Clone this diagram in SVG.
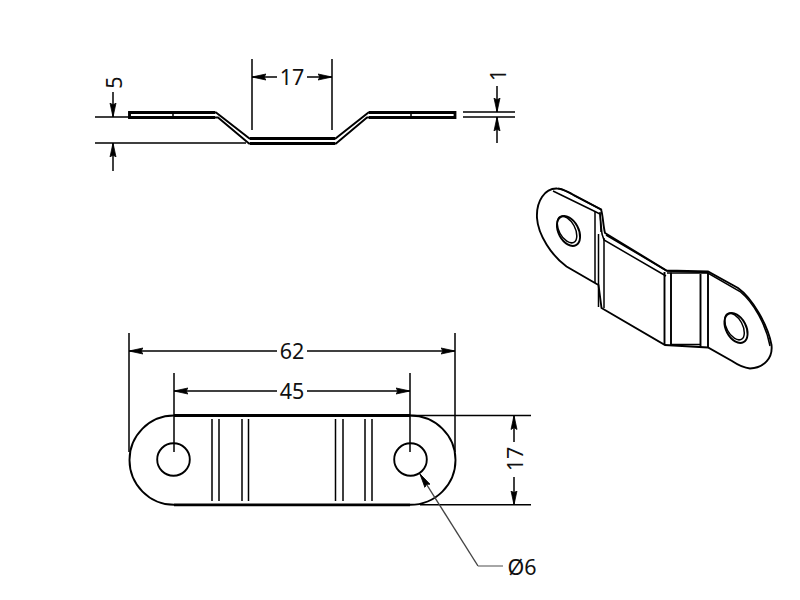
<svg xmlns="http://www.w3.org/2000/svg" width="800" height="600" viewBox="0 0 800 600">
<defs>
<marker id="a" markerUnits="userSpaceOnUse" markerWidth="16" markerHeight="10" refX="14" refY="5" orient="auto-start-reverse"><path d="M0 2L14 5L0 8L2 5Z" fill="#000" stroke="#000" stroke-width=".8"/></marker>
</defs>
<style>
.l{fill:none;stroke:#000;stroke-width:1.500}
.m{fill:none;stroke:#000;stroke-width:1.900}
.h{fill:none;stroke:#000;stroke-width:2.800}
.g{fill:none;stroke:#444;stroke-width:1.400}
.d{marker-end:url(#a)}
text{font-family:"Noto Sans","Open Sans",sans-serif;font-size:21.500px;fill:#111;text-anchor:middle}
</style>
<rect width="800" height="600" fill="#fff"/>
<g id="side-view">
<path class="m" d="M129.500 112.500H216L249.500 138.500H335.500L368.500 112.500H455V117.500H367L336 143.500H249L218 117.500H129.500Z"/>
<path class="l" d="M173 112V117M411 112V117"/>
<path class="h" d="M250 138.500H335M250 143.500H335M130 112.500H215M130 117.500H215M369 112.500H455M369 117.500H455M129.500 111V119M455 111V119"/>
</g>
<g id="plan-view">
<path class="h" d="M174 415.500H410M174 504.800H410"/>
<path class="m" d="M174 415.500C149.400 415.500 129.500 435.500 129.500 460C129.500 484.500 149.400 504.800 174 504.800M410 415.500C435.600 415.500 455.500 435.500 455.500 460C455.500 484.500 435.600 504.800 410 504.800"/>
<circle class="m" cx="173.500" cy="459.500" r="16.300"/>
<circle class="m" cx="410.500" cy="459.500" r="16.300"/>
<path class="l" d="M212 419V501M219 419V501M242 419V501M248.500 419V501M335.500 419V501M343 419V501M365 419V501M372 419V501"/>
</g>
<g id="iso-view">
<path class="m" d="M595 283L566.500 266.500C552 256 538 235 537 218C536 201 545 188 557 188.500C562 188.500 566 191 572 194L601 209.500C603 215 603 225 605 233L666.500 270.500L708 271.500L738 288C752 298 768 325 771.500 345C773 358 764 368 750 368.500C745 368 738 365 732 361L708 347.500L665 345L601.500 308L598.500 285Z"/>
<path class="l" d="M558 188.500C563 189 568 192 574 195.500L602 210M553 191L595 211.500L600 214L602 234L604 240L666 276M606 235L667 271M667 271L707 272.500L740 291.500C754 303 766 325 770 346"/>
<path class="l" d="M595 211V283M600 212L601 232M598.500 234V307M604 238V308"/>
<path class="m" d="M664.500 272V345M671 272.500V346M700.500 274V347M708 272.500V348"/>
<path class="l" d="M667 273H708M670 344.500H700"/>
<ellipse class="m" cx="568.500" cy="231" rx="10" ry="16" transform="rotate(-28 568.500 231)"/>
<ellipse class="l" cx="567" cy="229.500" rx="8" ry="14.500" transform="rotate(-28 567 229.500)"/>
<ellipse class="m" cx="736" cy="328" rx="10" ry="16" transform="rotate(-28 736 328)"/>
<ellipse class="l" cx="734.500" cy="326.500" rx="8" ry="14.500" transform="rotate(-28 734.500 326.500)"/>
</g>
<g id="connectors">
<path class="l" d="M252 59V130M332 59V130M95 117H129M95 143H246M463 112H515M463 117H515"/>
<path class="l d" d="M277 77H252"/><path class="l d" d="M307 77H332"/>
<path class="l d" d="M113 92V117"/><path class="l d" d="M113 171V143"/>
<path class="l d" d="M497 86V112"/><path class="l d" d="M497 143V117"/>
<path class="l" d="M129 333V452M455 333V452M174 373V452M410 373V452M410 415.500H531M420 504.800H531"/>
<path class="l d" d="M277 351H129"/><path class="l d" d="M307 351H455"/>
<path class="l d" d="M277 391H174"/><path class="l d" d="M307 391H410"/>
<path class="l d" d="M514 442V415.500"/><path class="l d" d="M514 477V504.800"/>
<path class="g d" d="M478 566L420 474"/>
<path d="M478 566H503" fill="none" stroke="#888" stroke-width="1.500"/>
</g>
<g id="labels">
<text x="292" y="84.500">17</text>
<text transform="translate(122 82.500) rotate(-90)">5</text>
<text transform="translate(506 75) rotate(-90)">1</text>
<text x="292" y="358.500">62</text>
<text x="292" y="398.500">45</text>
<text transform="translate(522.500 459) rotate(-90)">17</text>
<text x="522" y="575">Ø6</text>
</g>
</svg>
